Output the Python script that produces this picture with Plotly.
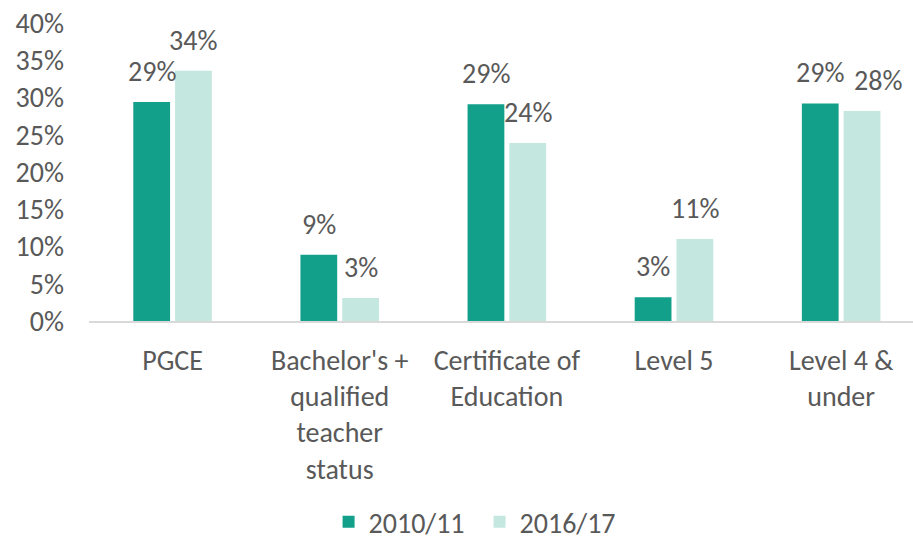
import plotly.graph_objects as go

categories = [
    "PGCE",
    "Bachelor's +<br>qualified<br>teacher<br>status",
    "Certificate of<br>Education",
    "Level 5",
    "Level 4 &<br>under",
]
share_2010_11 = [0.294, 0.089, 0.291, 0.032, 0.292]
share_2016_17 = [0.336, 0.031, 0.239, 0.110, 0.282]
y_ticks = [0, 0.05, 0.10, 0.15, 0.20, 0.25, 0.30, 0.35, 0.40]

DARK = "#12a08a"
LIGHT = "#c4e7e0"
TEXT = "#595959"
FONT = "Calibri, Carlito, Lato, sans-serif"
SIZE = 28

x_pos = list(range(len(categories)))

fig = go.Figure()
fig.add_trace(go.Bar(x=x_pos, y=share_2010_11, name="2010/11",
                     marker=dict(color=DARK, line=dict(width=0))))
fig.add_trace(go.Bar(x=x_pos, y=share_2016_17, name="2016/17",
                     marker=dict(color=LIGHT, line=dict(width=0))))

# value labels above each bar, offset to the bar's slot within the group;
# the last 2016/17 label is nudged right so it clears its neighbour
label_nudge = {(1, 4): 16}
annotations = []
for s, (series, dx) in enumerate(((share_2010_11, -0.125), (share_2016_17, 0.125))):
    for i, v in enumerate(series):
        annotations.append(dict(
            x=i + dx, y=v, xref="x", yref="y",
            text=f"{round(v * 100):.0f}%",
            showarrow=False, yanchor="bottom", yshift=11,
            xshift=label_nudge.get((s, i), 0),
            font=dict(family=FONT, size=SIZE, color=TEXT),
        ))

fig.update_layout(
    width=913, height=543,
    margin=dict(l=89, r=0, t=23, b=222, autoexpand=False),
    paper_bgcolor="white", plot_bgcolor="white",
    barmode="group", bargap=0.5, bargroupgap=0.12,
    font=dict(family=FONT, size=SIZE, color=TEXT),
    showlegend=True,
    legend=dict(orientation="h", x=0.474, xanchor="center",
                y=-0.675, yanchor="middle",
                font=dict(family=FONT, size=SIZE, color=TEXT),
                itemwidth=30, entrywidth=106, traceorder="normal"),
    annotations=annotations,
)
fig.update_xaxes(
    type="linear", range=[-0.5, 4.43],
    tickvals=x_pos, ticktext=categories,
    showgrid=False, zeroline=False,
    showline=True, linecolor="#d9d9d9", linewidth=2,
    ticks="", ticklabelstandoff=13,
    tickfont=dict(family=FONT, size=SIZE, color=TEXT),
)
fig.update_yaxes(
    range=[0, 0.4], tickvals=y_ticks, tickformat=".0%",
    showgrid=False, zeroline=False, showline=False,
    ticks="", ticklabelstandoff=24,
    tickfont=dict(family=FONT, size=SIZE, color=TEXT),
)

fig.write_html("out.html")
